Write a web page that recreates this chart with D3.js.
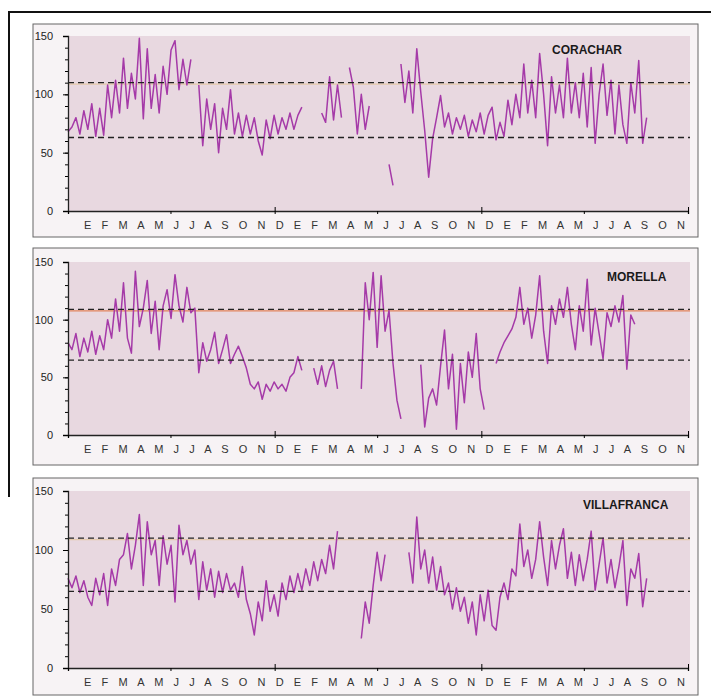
<!DOCTYPE html>
<html>
<head>
<meta charset="utf-8">
<script src="https://cdn.jsdelivr.net/npm/d3@7"></script>
<style>
  body { margin: 0; background: #fff; }
  svg { display: block; }
</style>
</head>
<body>
<div id="chart"></div>
<script>
// weekly values (null = no data)
var stations = ["CORACHAR", "MORELLA", "VILLAFRANCA"];

var corachar = [68,72,80,66,86,70,92,64,88,65,
  108,80,112,84,131,88,118,96,148,79,
  139,88,117,84,124,100,138,146,104,130,
  108,130,null,108,56,96,70,92,50,88,
  70,104,66,84,64,82,66,80,60,48,
  78,62,82,66,80,70,84,70,82,89,
  null,null,null,null,84,76,115,78,108,80,
  null,123,106,66,100,70,90,null,null,null,
  null,40,22,null,126,93,120,84,139,102,
  69,29,62,80,99,72,84,66,80,70,
  82,64,78,68,84,66,82,89,61,76,
  64,95,74,100,80,126,84,112,80,135,
  100,56,115,84,108,80,131,84,110,80,
  118,72,123,58,100,126,82,112,66,108,
  74,58,110,84,129,58,80,null,null,null,
  null,null,null,null,null,null,null];

var morella = [80,74,88,68,84,72,90,70,86,74,
  100,84,118,90,132,84,71,142,94,110,
  134,88,116,74,112,126,101,139,112,98,
  128,106,110,54,80,64,74,89,62,74,
  87,62,70,77,68,58,44,40,46,31,
  44,38,46,40,44,38,50,54,68,56,
  null,null,58,44,60,42,56,64,40,null,
  null,null,null,null,40,132,100,141,76,138,
  90,108,62,30,14,null,null,null,null,61,
  7,32,40,26,60,91,40,70,5,62,
  28,72,50,88,40,22,null,null,62,72,
  80,86,92,102,128,96,110,84,104,138,
  90,62,112,96,118,102,128,96,74,112,
  90,135,78,110,88,66,106,94,112,98,
  121,57,104,96,null,null,null,null,null,null,
  null,null,null,null,null,null,null];

var villafranca = [76,68,78,64,74,60,53,76,62,80,
  53,84,70,92,96,114,84,104,130,70,
  124,96,108,70,112,88,104,56,121,96,
  108,88,100,58,90,66,84,60,82,64,
  80,66,72,60,86,58,46,28,56,40,
  74,48,62,44,72,58,78,64,80,66,
  84,70,90,74,92,80,104,84,116,null,
  null,null,null,null,25,56,38,70,98,74,
  96,null,null,null,null,null,98,72,128,84,
  100,72,94,66,86,62,72,50,68,48,
  60,38,56,28,62,40,66,36,32,60,
  72,58,84,78,122,86,100,76,92,124,
  94,70,108,84,104,118,76,98,70,96,
  74,92,116,66,88,110,72,92,68,86,
  108,53,84,76,97,52,76,null,null,null,
  null,null,null,null,null,null,null];

// dashed reference levels
var upperRef = [110, 109, 110];
var lowerRef = [63, 65, 65];

var monthLabels = ["E","F","M","A","M","J","J","A","S","O","N","D",
  "E","F","M","A","M","J","J","A","S","O","N","D",
  "E","F","M","A","M","J","J","A","S","O","N"];
var yMajor = [0, 50, 100, 150];

var series = [corachar, morella, villafranca];

var width = 711, height = 700;
var svg = d3.select("#chart").append("svg")
  .attr("width", width)
  .attr("height", height)
  .style("font-family", "'Liberation Sans', Arial, sans-serif");

// outer frame of the figure
svg.append("path")
  .attr("d", "M9,497V12H711")
  .attr("fill", "none")
  .attr("stroke", "#111")
  .attr("stroke-width", 2);

var start = new Date(1993, 0, 1), end = new Date(1996, 0, 1);
var x = d3.scaleTime().domain([start, end]).range([68, 688]);

// panel boxes: frame and plot area
var boxes = [
  {top: 24, bottom: 237, plotTop: 36, plotBottom: 211, titleX: 552, titleY: 54},
  {top: 248, bottom: 465, plotTop: 262, plotBottom: 435, titleX: 607, titleY: 281},
  {top: 478, bottom: 695, plotTop: 491, plotBottom: 668, titleX: 583, titleY: 509}
];

var line = d3.line()
  .defined(function(d) { return d.v != null; })
  .x(function(d) { return x(d.date); })
  .y(function(d) { return d.y; });

boxes.forEach(function(b, k) {
  var g = svg.append("g");

  g.append("rect")
    .attr("x", 33).attr("y", b.top)
    .attr("width", 698 - 33).attr("height", b.bottom - b.top)
    .attr("fill", "#f7f3f5")
    .attr("stroke", "#666")
    .attr("stroke-width", 1);

  g.append("rect")
    .attr("x", 68).attr("y", b.plotTop)
    .attr("width", 690 - 68).attr("height", b.plotBottom - b.plotTop)
    .attr("fill", "#e8d8e0");

  var y = d3.scaleLinear().domain([0, 150]).range([b.plotBottom, b.plotTop]);

  // orange tint under the upper level (strong in the middle panel)
  g.append("line")
    .attr("x1", 68).attr("x2", 690)
    .attr("y1", y(upperRef[k]) + 1.5).attr("y2", y(upperRef[k]) + 1.5)
    .attr("stroke", k == 1 ? "#e2713c" : "#e3c08a")
    .attr("stroke-width", 1.2)
    .attr("opacity", k == 1 ? 0.8 : 0.6);

  // data line
  var pts = series[k].map(function(v, i) {
    return {date: d3.timeDay.offset(start, i * 7), v: v, y: v == null ? 0 : y(v)};
  });
  g.append("path")
    .attr("d", line(pts))
    .attr("fill", "none")
    .attr("stroke", "#a53aa8")
    .attr("stroke-width", 1.5)
    .attr("stroke-linejoin", "round");

  // dashed levels
  [upperRef[k], lowerRef[k]].forEach(function(v) {
    g.append("line")
      .attr("x1", 68).attr("x2", 690)
      .attr("y1", y(v)).attr("y2", y(v))
      .attr("stroke", "#222")
      .attr("stroke-width", 1.3)
      .attr("stroke-dasharray", "6,4");
  });

  // y axis: minor and major ticks
  var yMinor = g.append("g")
    .attr("transform", "translate(68,0)")
    .call(d3.axisLeft(y).tickValues(d3.range(0, 151, 10)).tickSize(3).tickFormat(""));
  yMinor.select(".domain").remove();

  var yAx = g.append("g")
    .attr("transform", "translate(68,0)")
    .call(d3.axisLeft(y).tickValues(yMajor).tickSize(5).tickPadding(10));
  yAx.select(".domain").attr("stroke", "#222").attr("stroke-width", 1.3);
  yAx.selectAll("text").attr("font-size", 11).attr("fill", "#222")
    .attr("font-family", "'Liberation Sans Narrow', 'Liberation Sans', Arial, sans-serif");

  // x axis: ticks every six months, crossing at year ends
  var halfYears = d3.timeMonth.every(6).range(start, d3.timeDay.offset(end, 1));
  var xAx = g.append("g")
    .attr("transform", "translate(0," + b.plotBottom + ")")
    .call(d3.axisBottom(x).tickValues(halfYears).tickSize(3).tickFormat(""));
  xAx.select(".domain").attr("stroke", "#222").attr("stroke-width", 1.3);

  var years = d3.timeYear.range(d3.timeDay.offset(start, 1), d3.timeDay.offset(end, 1));
  var xUp = g.append("g")
    .attr("transform", "translate(0," + b.plotBottom + ")")
    .call(d3.axisBottom(x).tickValues(years).tickSize(-4).tickFormat(""));
  xUp.select(".domain").remove();

  // month letters
  g.append("text")
    .attr("x", 84)
    .attr("y", b.plotBottom + 18)
    .attr("textLength", 601)
    .attr("lengthAdjust", "spacing")
    .attr("font-size", 11)
    .attr("fill", "#333")
    .text(monthLabels.join(" "));

  // station name
  g.append("text")
    .attr("x", b.titleX)
    .attr("y", b.titleY)
    .attr("font-size", 12)
    .attr("font-weight", "bold")
    .attr("fill", "#1a1a1a")
    .text(stations[k]);
});
</script>
</body>
</html>
